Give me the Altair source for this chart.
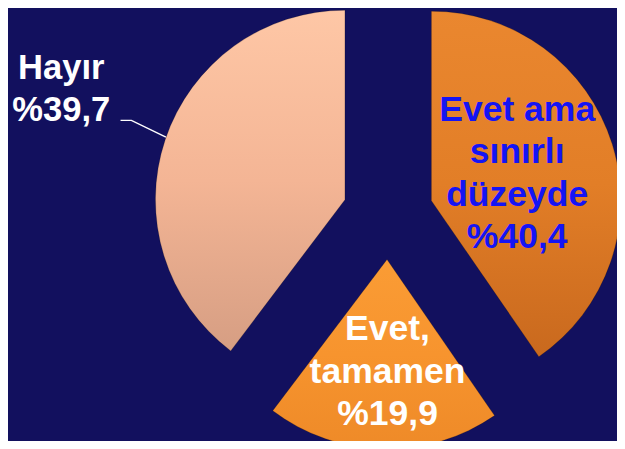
import math
import altair as alt
import pandas as pd

# ---- data ----
categories = ["Evet ama sınırlı düzeyde", "Evet, tamamen", "Hayır"]
values = [40.4, 19.9, 39.7]
label_lines = [["Evet ama", "sınırlı", "düzeyde", "%40,4"],
               ["Evet,", "tamamen", "%19,9"],
               ["Hayır", "%39,7"]]

df = pd.DataFrame({"cat": categories, "value": values, "order": [0, 1, 2]})

# ---- layout parameters (chart-space) ----
W, H = 617, 433
CX, CY = 385, 206       # pie centre
R = 192                 # radius
D = 46                  # explode distance
BG = "#12105E"

base = (
    alt.Chart(df)
    .transform_joinaggregate(total="sum(value)")
    .transform_window(cum="sum(value)", sort=[alt.SortField("order")],
                      frame=[None, 0])
    .transform_calculate(
        t0="(datum.cum - datum.value) / datum.total * 2 * PI",
        t1="datum.cum / datum.total * 2 * PI",
    )
    .transform_calculate(mid="(datum.t0 + datum.t1) / 2")
    .transform_calculate(
        px=f"{CX} + {D} * sin(datum.mid)",
        py=f"{CY} - {D} * cos(datum.mid)",
    )
)

grads = {
    "Evet ama sınırlı düzeyde": ["#EA872F", "#E27E27", "#C9691E"],
    "Evet, tamamen": ["#FA9C35", "#F7942E", "#EE8A28"],
    "Hayır": ["#FEC7A6", "#F4B595", "#D69E83"],
}

layers = []
for cat in categories:
    stops = grads[cat]
    g = alt.Gradient(
        gradient="linear", x1=0, y1=0, x2=0, y2=1,
        stops=[alt.GradientStop(color=stops[0], offset=0),
               alt.GradientStop(color=stops[1], offset=0.5),
               alt.GradientStop(color=stops[2], offset=1)],
    )
    layers.append(
        base.transform_filter(alt.datum.cat == cat)
        .mark_arc(radius=R, color=g, stroke="#00000033", strokeWidth=1)
        .encode(
            x=alt.X("px:Q", scale=None),
            y=alt.Y("py:Q", scale=None),
            theta=alt.Theta("t0:Q", scale=None),
            theta2="t1:Q",
        )
    )

# ---- labels ----
lab = pd.DataFrame({
    "cat": categories,
    "text": label_lines,
    "lr": [90, 113, 0],
})

lab_base = (
    alt.Chart(lab)
    .transform_lookup(lookup="cat", from_=alt.LookupData(
        data=df, key="cat", fields=["value", "order"]))
    .transform_joinaggregate(total="sum(value)")
    .transform_window(cum="sum(value)", sort=[alt.SortField("order")],
                      frame=[None, 0])
    .transform_calculate(mid="(datum.cum - datum.value / 2) / datum.total * 2 * PI")
    .transform_calculate(
        lx=f"{CX} + ({D} + datum.lr) * sin(datum.mid)",
        ly=f"{CY} - ({D} + datum.lr) * cos(datum.mid)",
    )
)

inside_right = lab_base.transform_filter(alt.datum.order == 0).mark_text(
    font="Liberation Sans", fontWeight="bold", fontSize=36, color="#1414F5",
    lineHeight=43, baseline="alphabetic", align="center", dx=1, dy=-54,
).encode(x=alt.X("lx:Q", scale=None), y=alt.Y("ly:Q", scale=None), text="text")

inside_bottom = lab_base.transform_filter(alt.datum.order == 1).mark_text(
    font="Liberation Sans", fontWeight="bold", fontSize=36, color="white",
    lineHeight=43, baseline="alphabetic", align="center", dx=3, dy=-31,
).encode(x=alt.X("lx:Q", scale=None), y=alt.Y("ly:Q", scale=None), text="text")

# outside label for "Hayır" with leader line
out_label = lab_base.transform_filter(alt.datum.order == 2).mark_text(
    font="Liberation Sans", fontWeight="bold", fontSize=35, color="white",
    lineHeight=43, baseline="alphabetic", align="center",
).encode(x=alt.value(54), y=alt.value(69), text="text")

leader = pd.DataFrame({"lxp": [114, 125, 160], "lyp": [111, 111, 128]})
leader_line = alt.Chart(leader).mark_line(color="white", strokeWidth=1.5).encode(
    x=alt.X("lxp:Q", scale=None), y=alt.Y("lyp:Q", scale=None)
)

chart = alt.layer(*layers, inside_right, inside_bottom, out_label, leader_line).properties(
    width=W, height=H, padding=0, autosize=alt.AutoSizeParams(type="none"),
    background=BG,
).configure_view(stroke=None)

chart.save("out.html", embed_options={"renderer": "svg", "actions": False})
